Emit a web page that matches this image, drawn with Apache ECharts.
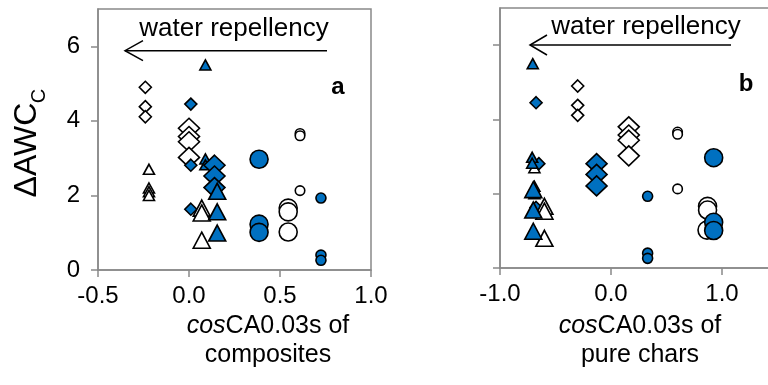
<!DOCTYPE html>
<html>
<head>
<meta charset="utf-8">
<script src="https://cdn.jsdelivr.net/npm/echarts@6/dist/echarts.min.js"></script>
<style>
html,body{margin:0;padding:0;background:#fff;}
#c{width:768px;height:385px;}
</style>
</head>
<body>
<div id="c"></div>
<script>
// ---- tick labels ----
const yTicks = [0, 2, 4, 6];
const xTicksA = [-0.5, 0.0, 0.5, 1.0];
const xTicksB = [-1.0, 0.0, 1.0];

// ---- ΔAWCc values (shared by both panels) ----
const openSmallDiamondY  = [4.90, 4.38, 4.11];
const openSmallTriangleY = [2.70, 2.20, 2.10, 2.00];
const openLargeDiamondY  = [3.80, 3.58, 3.44, 3.02];
const blueSmallDiamondY  = [4.45, 2.81, 1.63];
const blueSmallTriangleY = [5.50, 2.98, 2.82];
const blueLargeDiamondY  = [2.81, 2.52, 2.21];
const openLargeTriangleY = [1.66, 1.53, 0.80];
const blueLargeTriangleY = [2.11, 1.56, 0.99];
const openSmallCircleY   = [3.66, 3.60, 2.13];
const openLargeCircleY   = [1.66, 1.56, 1.02];
const blueSmallCircleY   = [1.93, 0.40, 0.26];
const blueLargeCircleY   = [2.97, 1.23, 1.01];

// ---- cosCA0.03s of composites (panel a) ----
const openSmallDiamondXa  = [-0.24, -0.24, -0.24];
const openSmallTriangleXa = [-0.22, -0.22, -0.22, -0.22];
const openLargeDiamondXa  = [0.00, 0.00, 0.00, 0.00];
const blueSmallDiamondXa  = [0.01, 0.01, 0.01];
const blueSmallTriangleXa = [0.09, 0.09, 0.09];
const blueLargeDiamondXa  = [0.14, 0.14, 0.14];
const openLargeTriangleXa = [0.07, 0.07, 0.07];
const blueLargeTriangleXa = [0.155, 0.155, 0.155];
const openSmallCircleXa   = [0.61, 0.61, 0.61];
const openLargeCircleXa   = [0.545, 0.545, 0.545];
const blueSmallCircleXa   = [0.725, 0.725, 0.725];
const blueLargeCircleXa   = [0.385, 0.385, 0.385];

// ---- cosCA0.03s of pure chars (panel b) ----
const openSmallDiamondXb  = [-0.30, -0.30, -0.30];
const openSmallTriangleXb = [-0.69, -0.69, -0.69, -0.69];
const openLargeDiamondXb  = [0.16, 0.16, 0.16, 0.16];
const blueSmallDiamondXb  = [-0.675, -0.65, -0.675];
const blueSmallTriangleXb = [-0.705, -0.71, -0.71];
const blueLargeDiamondXb  = [-0.13, -0.13, -0.13];
const openLargeTriangleXb = [-0.60, -0.60, -0.60];
const blueLargeTriangleXb = [-0.70, -0.70, -0.70];
const openSmallCircleXb   = [0.60, 0.60, 0.60];
const openLargeCircleXb   = [0.87, 0.87, 0.865];
const blueSmallCircleXb   = [0.33, 0.33, 0.33];
const blueLargeCircleXb   = [0.925, 0.925, 0.925];

const BLUE = '#0070C0';
const FONT = '"Liberation Sans", Arial, sans-serif';
const AXIS = '#898989';

const groups = [
  {ys: openSmallDiamondY,  xa: openSmallDiamondXa,  xb: openSmallDiamondXb,  sym: 'diamond',  size: [12, 12], fill: '#fff'},
  {ys: openSmallTriangleY, xa: openSmallTriangleXa, xb: openSmallTriangleXb, sym: 'triangle', size: [11, 10], fill: '#fff'},
  {ys: openLargeDiamondY,  xa: openLargeDiamondXa,  xb: openLargeDiamondXb,  sym: 'diamond',  size: [21, 20], fill: '#fff'},
  {ys: blueSmallDiamondY,  xa: blueSmallDiamondXa,  xb: blueSmallDiamondXb,  sym: 'diamond',  size: [12, 12], fill: BLUE},
  {ys: blueSmallTriangleY, xa: blueSmallTriangleXa, xb: blueSmallTriangleXb, sym: 'triangle', size: [11, 10], fill: BLUE},
  {ys: blueLargeDiamondY,  xa: blueLargeDiamondXa,  xb: blueLargeDiamondXb,  sym: 'diamond',  size: [21, 20], fill: BLUE},
  {ys: openLargeTriangleY, xa: openLargeTriangleXa, xb: openLargeTriangleXb, sym: 'triangle', size: [17, 16], fill: '#fff'},
  {ys: blueLargeTriangleY, xa: blueLargeTriangleXa, xb: blueLargeTriangleXb, sym: 'triangle', size: [17, 16], fill: BLUE},
  {ys: openSmallCircleY,   xa: openSmallCircleXa,   xb: openSmallCircleXb,   sym: 'circle',   size: 9.5,      fill: '#fff'},
  {ys: openLargeCircleY,   xa: openLargeCircleXa,   xb: openLargeCircleXb,   sym: 'circle',   size: 18,       fill: '#fff'},
  {ys: blueSmallCircleY,   xa: blueSmallCircleXa,   xb: blueSmallCircleXb,   sym: 'circle',   size: 10,       fill: BLUE},
  {ys: blueLargeCircleY,   xa: blueLargeCircleXa,   xb: blueLargeCircleXb,   sym: 'circle',   size: 18,       fill: BLUE}
];

const series = [];
[0, 1].forEach(function (p) {
  groups.forEach(function (g) {
    const xs = p === 0 ? g.xa : g.xb;
    series.push({
      type: 'scatter',
      xAxisIndex: p, yAxisIndex: p,
      symbol: g.sym, symbolSize: g.size,
      itemStyle: {color: g.fill, borderColor: '#000', borderWidth: 1.6, opacity: 1},
      emphasis: {disabled: true},
      silent: true,
      data: g.ys.map(function (y, i) { return [xs[i], y]; })
    });
  });
});

function xAxis(idx, min, max, interval, ticks) {
  return {
    type: 'value', gridIndex: idx, min: min, max: max, interval: interval,
    axisLine: {show: true, onZero: false, lineStyle: {color: AXIS, width: 1.5}},
    axisTick: {show: true, inside: false, length: 7, customValues: ticks, lineStyle: {color: AXIS, width: 1.5}},
    axisLabel: {show: true, margin: 14, customValues: ticks, color: '#000', fontSize: 24, fontFamily: FONT,
      formatter: function (v) { return Number(v).toFixed(1); }},
    splitLine: {show: false}
  };
}
function yAxis(idx, showLabels) {
  return {
    type: 'value', gridIndex: idx, min: 0, max: 7, interval: 2,
    axisLine: {show: true, onZero: false, lineStyle: {color: AXIS, width: 1.5}},
    axisTick: {show: true, inside: false, length: 7, customValues: yTicks, lineStyle: {color: AXIS, width: 1.5}},
    axisLabel: {show: showLabels, margin: 18, customValues: yTicks, color: '#000', fontSize: 24, fontFamily: FONT,
      formatter: function (v) { return String(v); }},
    splitLine: {show: false}
  };
}

function arrow(x1, x2, y, hx, hy) {
  return [
    {type: 'line', shape: {x1: x1, y1: y, x2: x2, y2: y}, style: {stroke: '#000', lineWidth: 1.5}, silent: true},
    {type: 'polyline', shape: {points: [[x2 + hx, y - hy], [x2, y], [x2 + hx, y + hy]]}, style: {stroke: '#000', lineWidth: 1.5, fill: null}, silent: true}
  ];
}

const graphic = [].concat(
  arrow(327, 125, 50.7, 18, 10),
  arrow(731, 530, 45, 17, 10),
  [
    {type: 'text', x: 234, y: 29, silent: true,
      style: {text: 'water repellency', font: '26px ' + FONT, fill: '#000', align: 'center', verticalAlign: 'middle'}},
    {type: 'text', x: 646, y: 27, silent: true,
      style: {text: 'water repellency', font: '26px ' + FONT, fill: '#000', align: 'center', verticalAlign: 'middle'}},
    {type: 'text', x: 338, y: 87, silent: true,
      style: {text: 'a', font: 'bold 24px ' + FONT, fill: '#000', align: 'center', verticalAlign: 'middle'}},
    {type: 'text', x: 746, y: 84, silent: true,
      style: {text: 'b', font: 'bold 24px ' + FONT, fill: '#000', align: 'center', verticalAlign: 'middle'}},
    {type: 'text', x: 27, y: 150, rotation: Math.PI / 2, silent: true,
      style: {text: 'ΔAWC', font: '32px ' + FONT, fill: '#000', align: 'center', verticalAlign: 'middle'}},
    {type: 'text', x: 39, y: 96, rotation: Math.PI / 2, silent: true,
      style: {text: 'C', font: '20px ' + FONT, fill: '#000', align: 'center', verticalAlign: 'middle'}},
    {type: 'text', x: 268, y: 341, silent: true,
      style: {text: '{i|cos}CA0.03s of\ncomposites', font: '25px ' + FONT, fill: '#000', align: 'center', verticalAlign: 'middle', lineHeight: 29,
        rich: {i: {fontStyle: 'italic', fontSize: 25, fontFamily: FONT, lineHeight: 29}}}},
    {type: 'text', x: 640, y: 341, silent: true,
      style: {text: '{i|cos}CA0.03s of\npure chars', font: '25px ' + FONT, fill: '#000', align: 'center', verticalAlign: 'middle', lineHeight: 29,
        rich: {i: {fontStyle: 'italic', fontSize: 25, fontFamily: FONT, lineHeight: 29}}}}
  ]
);

const option = {
  animation: false,
  backgroundColor: '#fff',
  grid: [
    {left: 98, top: 9, width: 273, height: 261, show: true, borderColor: AXIS, borderWidth: 1.5, backgroundColor: 'transparent', containLabel: false, outerBoundsMode: 'none'},
    {left: 500, top: 8, width: 277.5, height: 260, show: true, borderColor: AXIS, borderWidth: 1.5, backgroundColor: 'transparent', containLabel: false, outerBoundsMode: 'none'}
  ],
  xAxis: [xAxis(0, -0.5, 1.0, 0.5, xTicksA), xAxis(1, -1.0, 1.5, 1.0, xTicksB)],
  yAxis: [yAxis(0, true), yAxis(1, false)],
  series: series,
  graphic: graphic
};

const chart = echarts.init(document.getElementById('c'), null, {renderer: 'canvas'});
chart.setOption(option);
</script>
</body>
</html>
